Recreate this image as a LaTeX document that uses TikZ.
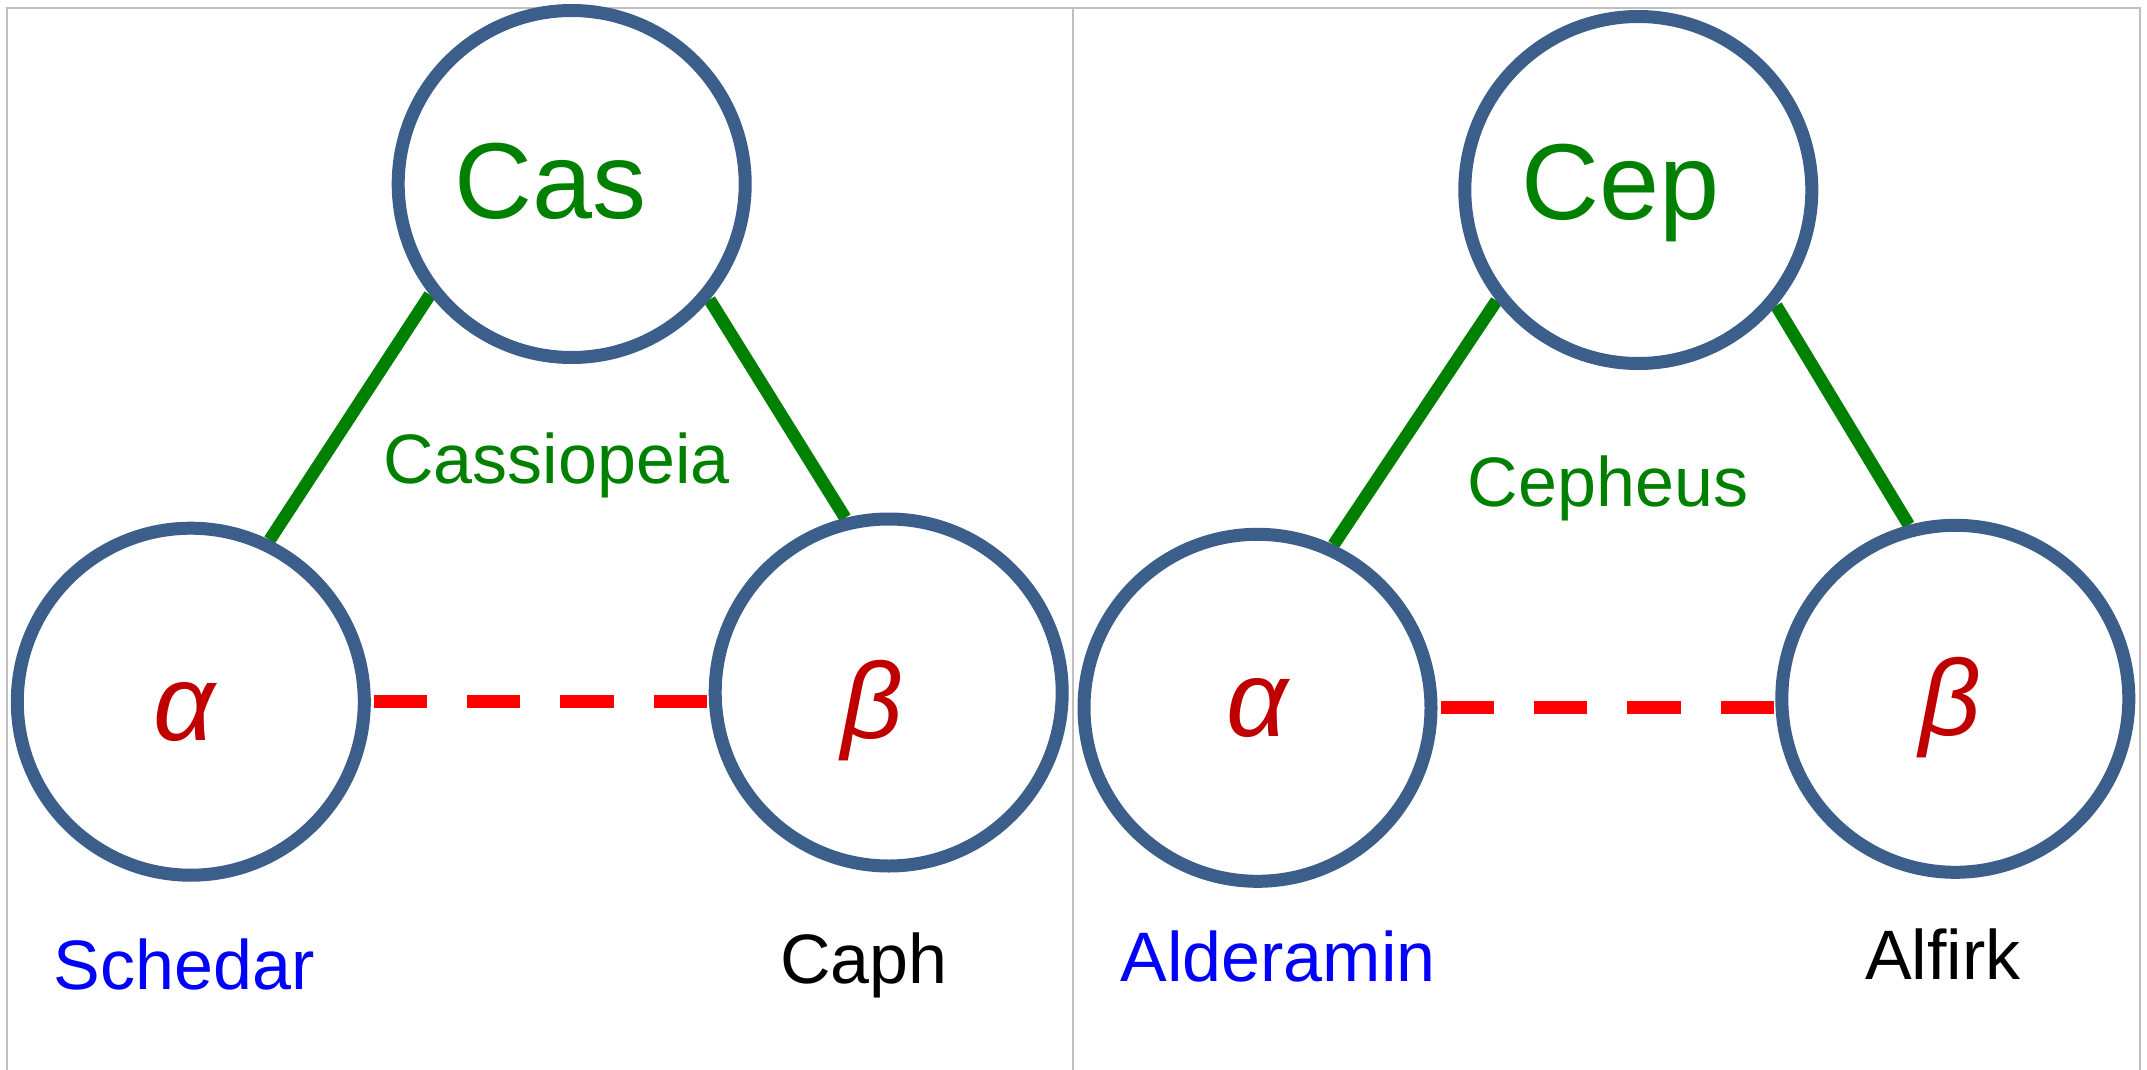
\documentclass[tikz,border=0pt]{standalone}
\usepackage{fontspec}
\setmainfont{Liberation Sans}
\definecolor{ringblue}{RGB}{59,94,139}
\definecolor{leafgreen}{RGB}{0,128,0}
\definecolor{greekred}{RGB}{192,0,0}
\definecolor{framegray}{RGB}{191,191,191}
\pgfdeclarelayer{background}
\pgfsetlayers{background,main}
\begin{document}
\begin{tikzpicture}[x=0.5pt,y=-0.5pt,
  star/.style={circle,draw=ringblue,line width=6.5pt,fill=white,inner sep=0pt,minimum size=173.5pt},
  bigtxt/.style={anchor=base,inner sep=0pt,text=leafgreen,font=\fontsize{54}{60}\selectfont},
  greek/.style={anchor=base,inner sep=0pt,text=greekred,font=\fontsize{54}{60}\selectfont\itshape},
  smalltxt/.style={anchor=base,inner sep=0pt,font=\fontsize{35}{40}\selectfont},
  link/.style={leafgreen,line width=6.3pt},
  pairlink/.style={red,line width=6.5pt,dash pattern=on 26.67pt off 20pt,shorten <=1.5pt},
  frame/.style={framegray,line width=1.3pt}]
\useasboundingbox (0,0) rectangle (2147,1070);
% frame
\draw[frame] (7,1070) -- (7,8) -- (2140,8) -- (2140,1070);
\draw[frame] (1073,8) -- (1073,1070);
% left panel
\node[star] (casC) at (571.7,184) {};
\node[star] (alphaL) at (190.8,701.7) {};
\node[star] (betaL) at (888.7,692.5) {};
% right panel
\node[star] (cepC) at (1638.3,190) {};
\node[star] (alphaR) at (1257.5,707.8) {};
\node[star] (betaR) at (1955.3,698.8) {};
\begin{pgfonlayer}{background}
\draw[link] (casC.218.8) -- (alphaL.64.9);
\draw[link] (casC.-40.7) -- (betaL.104.5);
\draw[link] (cepC.218.3) -- (alphaR.65);
\draw[link] (cepC.-40.5) -- (betaR.105.2);
\end{pgfonlayer}
\draw[pairlink] (alphaL.east) -- (alphaL.east -| betaL.west);
\draw[pairlink] (alphaR.east) -- (alphaR.east -| betaR.west);
% texts
\node[bigtxt] (casT) at (550.5,218.3) {Cas};
\node[bigtxt] (cepT) at (1620.5,219.3) {Cep};
\node[greek] (aLT) at (183.8,740) {α};
\node[greek] (bLT) at (872,738) {β};
\node[greek] (aRT) at (1257.5,736.7) {α};
\node[greek] (bRT) at (1950,735) {β};
\node[smalltxt,text=leafgreen] (cassT) at (556.6,483.4) {Cassiopeia};
\node[smalltxt,text=leafgreen] (cephT) at (1608,506.6) {Cepheus};
\node[smalltxt,text=blue] (schT) at (184,989) {Schedar};
\node[smalltxt,text=black] (capT) at (864,983.3) {Caph};
\node[smalltxt,text=blue] (aldT) at (1278,981.8) {Alderamin};
\node[smalltxt,text=black] (alfT) at (1943,979) {Alfirk};
\end{tikzpicture}
\end{document}
